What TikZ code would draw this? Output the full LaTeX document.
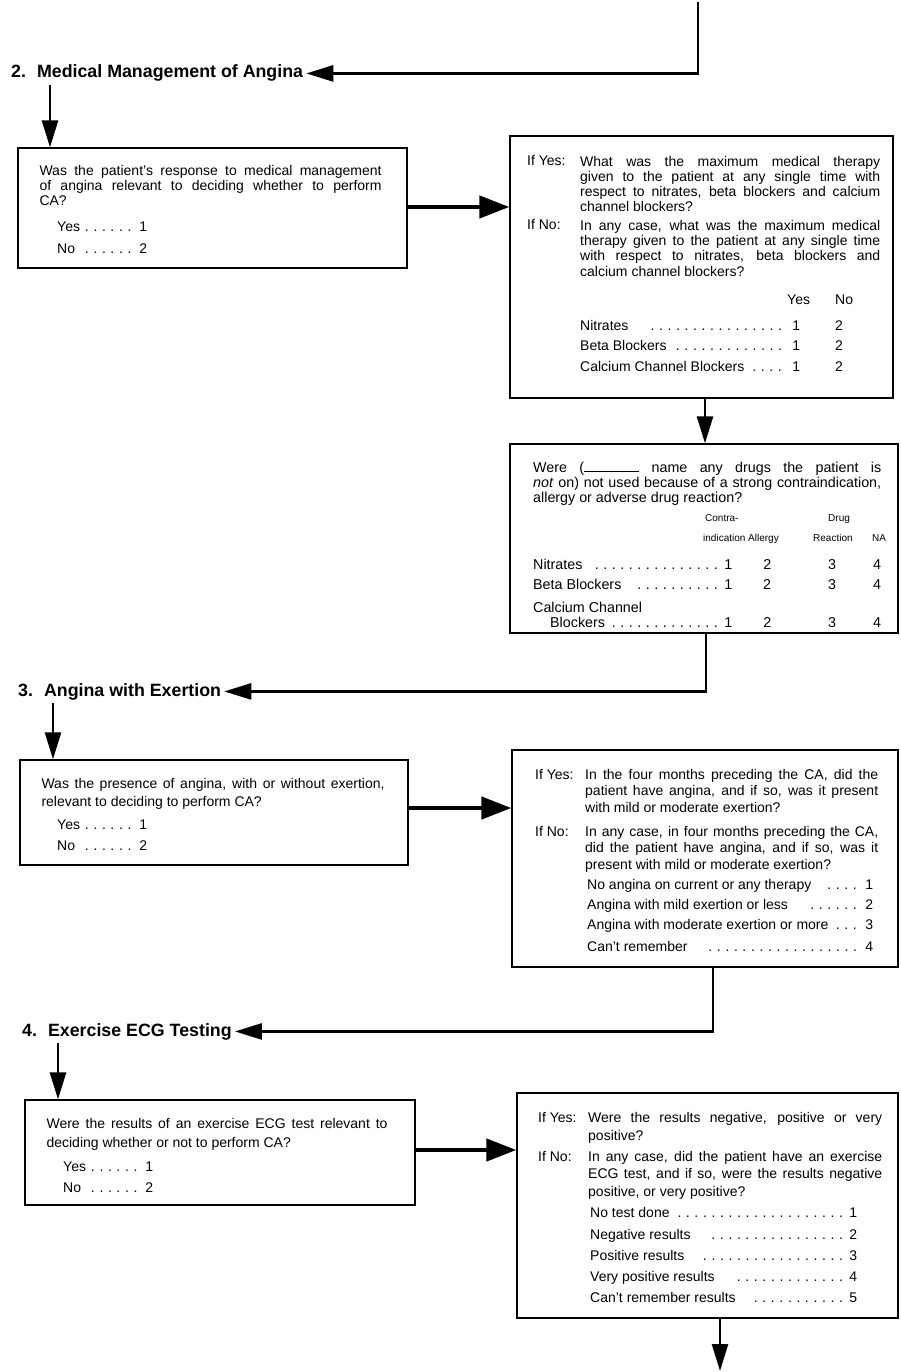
\documentclass[tikz,border=0pt]{standalone}
\usepackage{fontspec}
\setmainfont{Liberation Sans}
\usetikzlibrary{positioning, fit, arrows.meta}

\newcommand{\dotlead}{\leaders\hbox to 8.5pt{\hss.\hss}\hfill}
\newcommand{\choiceline}[3]{\hbox to #1{#2\dotlead\ #3}}
\newcommand{\ynrow}[1]{\hbox{\hbox to 220pt{#1\ \dotlead\ 1}\hskip 35pt 2}}
\newcommand{\drugrow}[1]{\hbox{\hbox to 199pt{#1\ \dotlead\ 1}\hbox to 70pt{\hss 2\hss}\hbox to 60pt{\hss 3\hss}\hbox to 30pt{\hss 4\hss}}}

\tikzset{
	qbox/.style={draw, line width=1.3pt, inner sep=0pt},
	qtext/.style={inner sep=0pt, anchor=north west, align=justify, font=\fontsize{14}{15}\selectfont},
	rowtext/.style={inner sep=0pt, anchor=base west, font=\fontsize{14}{15}\selectfont},
	hdtext/.style={inner sep=0pt, anchor=base west, font=\fontsize{10}{12}\selectfont},
	heading/.style={inner sep=3pt, anchor=base west, font=\fontsize{17.8}{20}\selectfont\bfseries},
	flow/.style={line width=2.6pt, -{Triangle[length=27pt,width=16pt]}},
	fatflow/.style={line width=4.5pt, -{Triangle[length=30pt,width=22pt]}}
}

\begin{document}
\begin{tikzpicture}[x=1pt, y=-1pt]
		\useasboundingbox (0,0) rectangle (900,1372);

		% 2. Medical Management of Angina
		\coordinate (top) at (698,2);
		\node (t2) [heading] at (8,78) {2.\hspace{11pt}Medical Management of Angina};
		\path[draw, flow] (top) |- (t2.east);

		\node (box1) [qbox, fit={(18,148) (407,268)}] {};
		\node (q1) [qtext, text width=342pt, below right=17.8pt and 22pt of box1.north west] {Was the patient's response to medical management\linebreak of angina relevant to deciding whether to perform\linebreak CA?};
		\node (q1yes) [rowtext] at (57,232) {\choiceline{90pt}{Yes}{1}};
		\node (q1no) [rowtext] at (57,253.7) {\choiceline{90pt}{No\ }{2}};
		\coordinate (a2) at (50,0);
		\path[draw, flow] (t2.south -| a2) -> (box1.north -| a2);

		\node (box2) [qbox, fit={(510,136) (893,398)}] {};
		\node (b2yes) [rowtext] at (527,166) {If Yes:};
		\node (b2yestext) [qtext, text width=300pt] at (580,155.8) {What was the maximum medical therapy\linebreak given to the patient at any single time with\linebreak respect to nitrates, beta blockers and calcium\linebreak channel blockers?};
		\node (b2no) [rowtext] at (527,230) {If No:};
		\node (b2notext) [qtext, text width=300pt, font=\fontsize{14}{15.3}\selectfont] at (580,219.8) {In any case, what was the maximum medical\linebreak therapy given to the patient at any single time\linebreak with respect to nitrates, beta blockers and\linebreak calcium channel blockers?};
		\node (b2hdyes) [rowtext] at (787,304) {Yes};
		\node (b2hdno) [rowtext] at (835,304) {No};
		\node (b2nitr) [rowtext] at (580,330) {\ynrow{Nitrates\ \ \ }};
		\node (b2beta) [rowtext] at (580,350.5) {\ynrow{Beta Blockers}};
		\node (b2calc) [rowtext] at (580,371) {\ynrow{Calcium Channel Blockers}};
		\path[draw, fatflow] (box1.east |- 0,207) -> (box2.west |- 0,207);

		\node (box3) [qbox, fit={(510,444) (898,633)}] {};
		\node (q3) [qtext, text width=348pt, font=\fontsize{14.3}{15}\selectfont] at (533,461.6) {Were (\rule{55pt}{0.8pt} name any drugs the patient is\linebreak \textit{not} on) not used because of a strong contraindication,\linebreak allergy or adverse drug reaction?};
		\node (hdcontra) [hdtext] at (705,521) {Contra-};
		\node (hdindic) [hdtext] at (703,541) {indication};
		\node (hdallergy) [hdtext] at (748,541) {Allergy};
		\node (hddrug) [hdtext] at (828,521) {Drug};
		\node (hdreact) [hdtext] at (813,541) {Reaction};
		\node (hdna) [hdtext] at (872,541) {NA};
		\node (b3nitr) [rowtext, font=\fontsize{14.3}{15}\selectfont] at (533,569) {\drugrow{Nitrates}};
		\node (b3beta) [rowtext, font=\fontsize{14.3}{15}\selectfont] at (533,589) {\drugrow{Beta Blockers\ \ }};
		\node (b3calc) [rowtext, font=\fontsize{14.3}{15}\selectfont] at (533,612) {Calcium Channel};
		\node (b3block) [rowtext, font=\fontsize{14.3}{15}\selectfont] at (533,627) {\drugrow{\hspace*{17pt}Blockers}};
		\coordinate (c2) at (705,0);
		\path[draw, flow] (box2.south -| c2) -> (box3.north -| c2);

		% 3. Angina with Exertion
		\node (t3) [heading] at (15,696) {3.\hspace{11pt}Angina with Exertion};
		\coordinate (c3) at (706,0);
		\path[draw, flow] (box3.south -| c3) |- (t3.east);

		\node (box4) [qbox, fit={(20,760) (408,865)}] {};
		\node (q4) [qtext, text width=343pt, font=\fontsize{14}{18}\selectfont, below right=18.8pt and 22pt of box4.north west] {Was the presence of angina, with or without exertion,\linebreak relevant to deciding to perform CA?};
		\node (q4yes) [rowtext] at (57,829) {\choiceline{90pt}{Yes}{1}};
		\node (q4no) [rowtext] at (57,850) {\choiceline{90pt}{No\ }{2}};
		\coordinate (a3) at (53,0);
		\path[draw, flow] (t3.south -| a3) -> (box4.north -| a3);

		\node (box5) [qbox, fit={(512,750) (898,967)}] {};
		\node (b5yes) [rowtext] at (535,779) {If Yes:};
		\node (b5yestext) [qtext, text width=293pt, font=\fontsize{14}{16.5}\selectfont] at (585,768.8) {In the four months preceding the CA, did the\linebreak patient have angina, and if so, was it present\linebreak with mild or moderate exertion?};
		\node (b5no) [rowtext] at (535,836) {If No:};
		\node (b5notext) [qtext, text width=293pt, font=\fontsize{14}{16.5}\selectfont] at (585,825.8) {In any case, in four months preceding the CA,\linebreak did the patient have angina, and if so, was it\linebreak present with mild or moderate exertion?};
		\node (b5opt1) [rowtext] at (587,889) {\choiceline{286pt}{No angina on current or any therapy\hspace{12pt}}{1}};
		\node (b5opt2) [rowtext] at (587,909) {\choiceline{286pt}{Angina with mild exertion or less\hspace{12pt}}{2}};
		\node (b5opt3) [rowtext] at (587,929) {\choiceline{286pt}{Angina with moderate exertion or more\ }{3}};
		\node (b5opt4) [rowtext] at (587,951) {\choiceline{286pt}{Can't remember\hspace{12pt}}{4}};
		\path[draw, fatflow] (box4.east |- 0,808) -> (box5.west |- 0,808);

		% 4. Exercise ECG Testing
		\node (t4) [heading] at (19,1036) {4.\hspace{11pt}Exercise ECG Testing};
		\coordinate (c5) at (713,0);
		\path[draw, flow] (box5.south -| c5) |- (t4.east);

		\node (box6) [qbox, fit={(25,1100) (415,1205)}] {};
		\node (q6) [qtext, text width=341pt, font=\fontsize{14}{19}\selectfont, below right=18.8pt and 22pt of box6.north west] {Were the results of an exercise ECG test relevant to\linebreak deciding whether or not to perform CA?};
		\node (q6yes) [rowtext] at (63,1171) {\choiceline{90pt}{Yes}{1}};
		\node (q6no) [rowtext] at (63,1192) {\choiceline{90pt}{No\ }{2}};
		\coordinate (a4) at (58,0);
		\path[draw, flow] (t4.south -| a4) -> (box6.north -| a4);

		\node (box7) [qbox, fit={(517,1093) (898,1318)}] {};
		\node (b7yes) [rowtext] at (538,1122) {If Yes:};
		\node (b7yestext) [qtext, text width=294pt, font=\fontsize{14}{18.5}\selectfont] at (588,1111.8) {Were the results negative, positive or very\linebreak positive?};
		\node (b7no) [rowtext] at (538,1161) {If No:};
		\node (b7notext) [qtext, text width=294pt, font=\fontsize{14}{17.5}\selectfont] at (588,1150.8) {In any case, did the patient have an exercise\linebreak ECG test, and if so, were the results negative\linebreak positive, or very positive?};
		\node (b7opt1) [rowtext] at (590,1217) {\choiceline{267pt}{No test done\ }{1}};
		\node (b7opt2) [rowtext] at (590,1239) {\choiceline{267pt}{Negative results\hspace{12pt}}{2}};
		\node (b7opt3) [rowtext] at (590,1260) {\choiceline{267pt}{Positive results\hspace{8pt}}{3}};
		\node (b7opt4) [rowtext] at (590,1281) {\choiceline{267pt}{Very positive results\hspace{12pt}}{4}};
		\node (b7opt5) [rowtext] at (590,1302) {\choiceline{267pt}{Can't remember results\hspace{12pt}}{5}};
		\path[draw, fatflow] (box6.east |- 0,1150) -> (box7.west |- 0,1150);

		\coordinate (c7) at (720,0);
		\coordinate (bottom) at (720,1371);
		\path[draw, flow] (box7.south -| c7) -> (bottom);
	\end{tikzpicture}
\end{document}
